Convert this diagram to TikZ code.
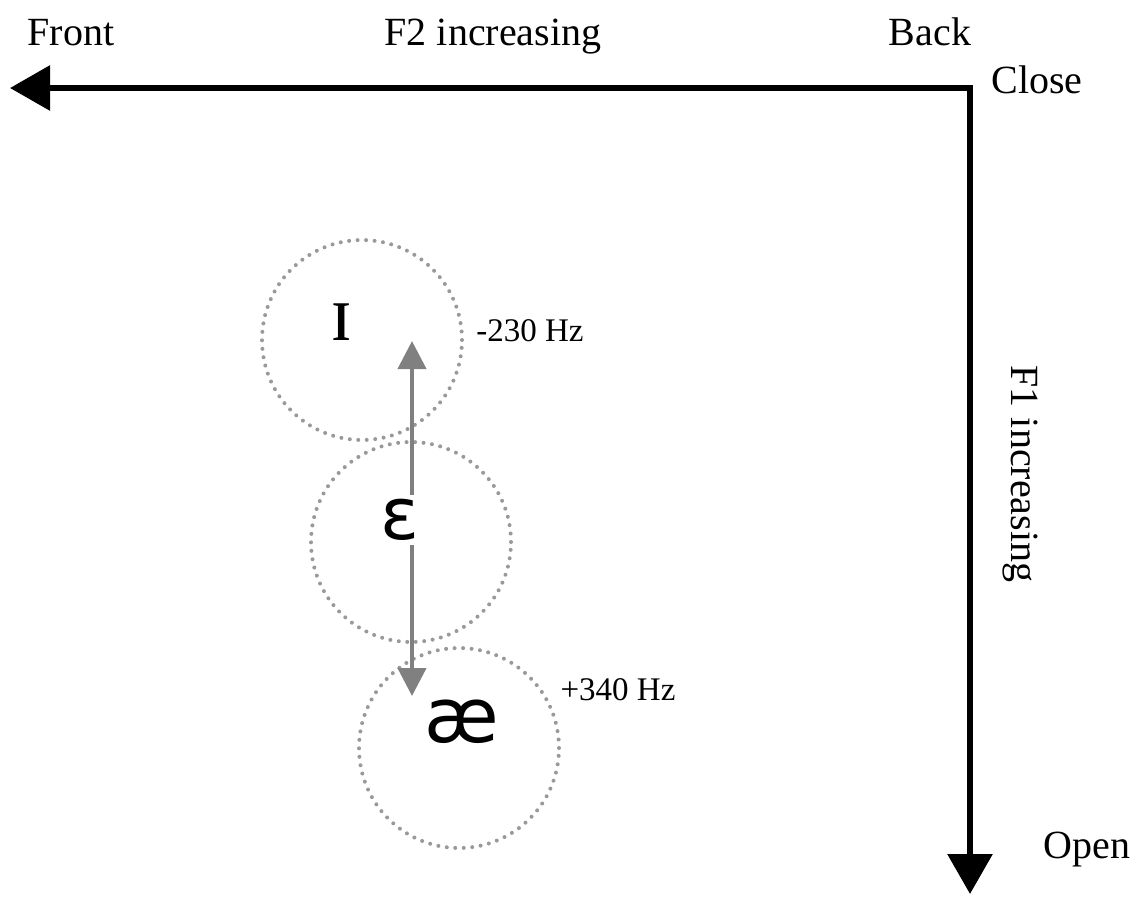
\documentclass[tikz,border=0pt]{standalone}
\usepackage{fontspec}
\setmainfont{Liberation Serif}
\newfontfamily\ipasans{DejaVu Sans}
\usetikzlibrary{arrows.meta}
\tikzset{
  axisboth/.style={line width=6pt, line join=miter, {Triangle[length=40pt,width=44pt]}-{Triangle[length=40pt,width=44pt]}},
  lbl/.style={font=\fontsize{40}{44}\selectfont, inner sep=0pt, anchor=base},
  hz/.style={font=\fontsize{33}{36}\selectfont, inner sep=0pt, anchor=base},
  vowelcircle/.style={circle, draw=gray!80, line width=4pt, dash pattern=on 0pt off 8.5pt, line cap=round, minimum size=200pt, inner sep=0pt},
  shiftarrow/.style={draw=gray, line width=4pt, {Triangle[length=28pt,width=28pt]}-{Triangle[length=28pt,width=28pt]}},
  vowel/.style={inner sep=2pt},
}
\begin{document}
\begin{tikzpicture}[x=1pt,y=-1pt]
\useasboundingbox (0,0) rectangle (1137,898);
% axes
\coordinate (left) at (10,88);
\coordinate (corner) at (970,88);
\coordinate (bottom) at (970,894);
\draw[axisboth] (left) -- (corner) -- (bottom);
% axis labels
\node[lbl] (front) at (71,45) {Front};
\node[lbl] (f2) at (493,45) {F2 increasing};
\node[lbl] (back) at (930,45) {Back};
\node[lbl] (close) at (1037,93) {Close};
\node[lbl] (open) at (1087,858) {Open};
\node[font=\fontsize{40}{44}\selectfont, inner sep=0pt, rotate=-90] (f1) at (1020,474) {F1 increasing};
% vowel circles
\node[vowelcircle] (cI) at (362,340) {};
\node[vowelcircle] (cE) at (411,542) {};
\node[vowelcircle] (cAE) at (459,748) {};
% shift arrow
\coordinate (up) at (412,341);
\coordinate (down) at (412,696);
\draw[shiftarrow] (down) -- (up);
% vowels
\node[vowel] (vI) at (342,322) {\fontsize{80}{84}\selectfont ɪ};
\node[vowel, fill=white, inner sep=4pt] (vE) at (400,520) {\ipasans\fontsize{72}{76}\selectfont ɛ};
\node[vowel] (vAE) at (462,722) {\ipasans\fontsize{76}{80}\selectfont æ};
% Hz labels
\node[hz] (m230) at (530,341) {-230 Hz};
\node[hz] (p340) at (618,700) {+340 Hz};
\end{tikzpicture}
\end{document}
